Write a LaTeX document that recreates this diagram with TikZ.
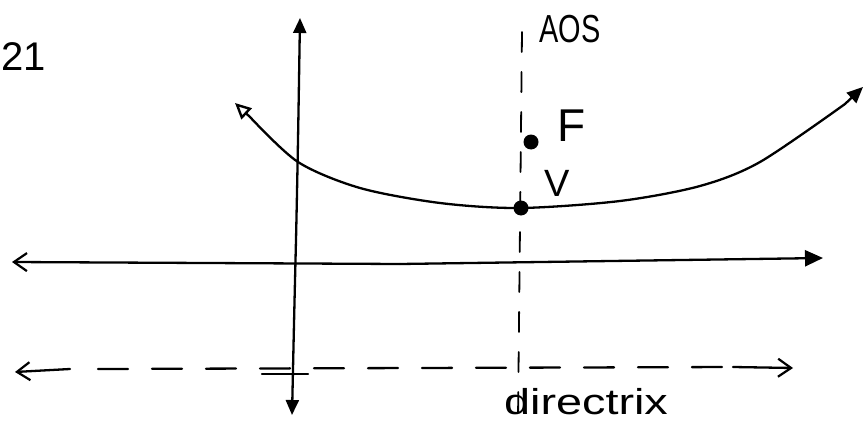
\documentclass[tikz,border=0pt]{standalone}
\usepackage{fontspec}
\setmainfont{Liberation Sans}
\usetikzlibrary{arrows.meta}
\begin{document}
\begin{tikzpicture}[x=1pt,y=-1pt,
  ink/.style={line width=2.3pt,black,line cap=round,line join=round},
  opentip/.style={-{Straight Barb[length=13pt,width=18pt,line width=2.2pt]}},
  filltip/.style={-{Triangle[length=15pt,width=13pt]}},
  dot/.style={circle,fill=black,inner sep=0pt,minimum size=15pt},
  hand/.style={inner sep=0pt}]
\useasboundingbox (0,0) rectangle (868,428);
% points
\coordinate (ytop) at (300,18);
\coordinate (ybot) at (292,415);
\coordinate (xl) at (12,262);
\coordinate (xr) at (823,258);
\coordinate (dl) at (15,372);
\coordinate (dr) at (793,368);
\coordinate (aostop) at (522,32);
\coordinate (aosbot) at (518,420);
\coordinate (pl) at (235,103);
\coordinate (pr) at (863,87);
% y-axis
\draw[ink,filltip] (296,240) .. controls (294,320) and (293,370) .. (ybot);
\draw[ink,filltip] (296,240) .. controls (298,150) and (299,80) .. (ytop);
% tick on directrix
\coordinate (tk1) at (262,374);
\coordinate (tk2) at (308,374);
\draw[ink] (tk1) -- (tk2);
% x-axis
\draw[ink,opentip] (400,264) -- (xl);
\draw[ink,-{Triangle[length=18pt,width=16pt]}] (400,264) -- (xr);
% directrix (dashed)
\draw[ink,opentip] (70,369) -- (dl);
\draw[ink,dash pattern=on 30pt off 24pt] (98,369) -- (733,367);
\draw[ink,opentip] (733,367) -- (dr);
% axis of symmetry (dashed)
\draw[ink,line width=1.8pt,dash pattern=on 20pt off 20pt] (aostop) -- (aosbot);
% parabola
\draw[ink] plot[smooth,tension=0.5] coordinates
  {(250,117) (298,162) (360,188) (440,203) (520,208) (620,201) (700,186) (760,162) (845,104)};
\draw[ink,-{Triangle[length=16pt,width=15pt,open,line width=2.4pt]}] (250,117) -- (pl);
\draw[ink,-{Triangle[length=16pt,width=14pt]}] (845,104) -- (pr);
% points
\node[dot] (V) at (521,208) {};
\node[dot] (F) at (531,142) {};
% labels
\node[hand,font=\fontsize{46}{46}\selectfont] (lF) at (572,126) {F};
\node[hand,font=\fontsize{38}{38}\selectfont] (lV) at (557,183) {V};
\node[hand,font=\fontsize{34}{34}\selectfont,xscale=0.85,yscale=1.15] (lAOS) at (570,29) {AOS};
\node[hand,font=\fontsize{36}{36}\selectfont,xscale=1.3] (ldir) at (586,402) {directrix};
\node[hand,font=\fontsize{40}{40}\selectfont,anchor=west] (l21) at (1,57) {21};
\end{tikzpicture}
\end{document}
